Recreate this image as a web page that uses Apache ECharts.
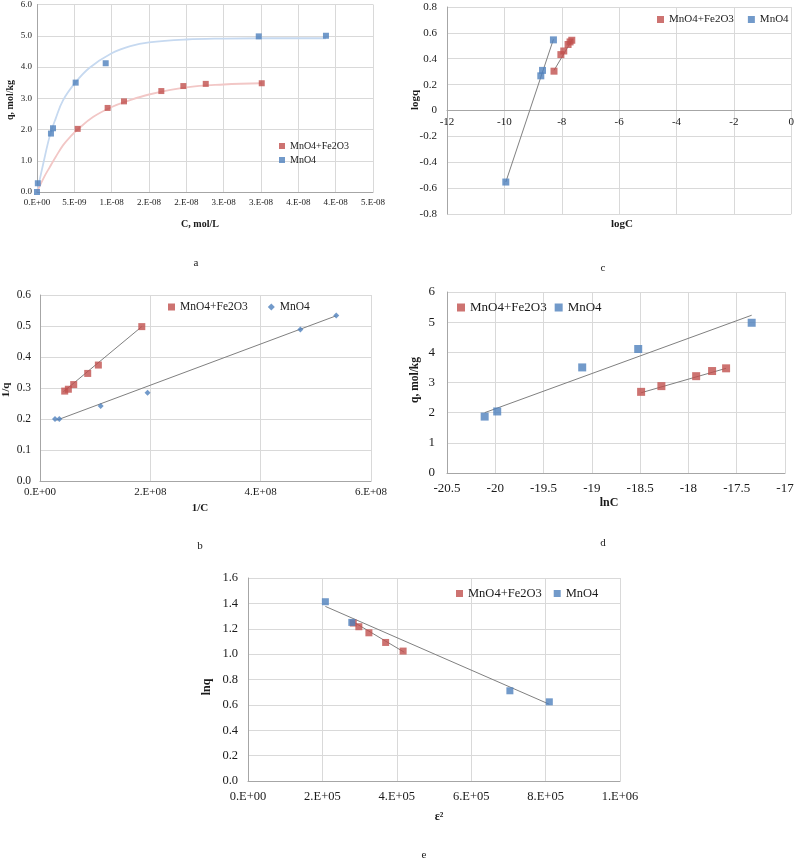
<!DOCTYPE html>
<html><head><meta charset="utf-8">
<script src="https://cdn.jsdelivr.net/npm/echarts@6/dist/echarts.min.js"></script>
<style>html,body{margin:0;padding:0;background:#fff}#c{width:797px;height:860px}</style>
</head><body><div id="c"></div>
<script>
// ---------- Panel a : q vs C ----------
const aBlueC = [0, 1.1e-10, 1.87e-9, 2.14e-9, 5.18e-9, 9.2e-9, 2.97e-8, 3.87e-8];
const aBlueQ = [0, 0.28, 1.87, 2.04, 3.5, 4.12, 4.98, 5.0];
const aRedC = [5.45e-9, 9.46e-9, 1.165e-8, 1.665e-8, 1.96e-8, 2.26e-8, 3.01e-8];
const aRedQ = [2.02, 2.69, 2.90, 3.23, 3.39, 3.46, 3.48];
const aBlueFitC = [0, 0.85e-9, 1.74e-9, 2.5e-9, 3.5e-9, 5.1e-9, 7e-9, 1e-8, 1.25e-8, 1.5e-8, 2e-8, 2.5e-8, 3e-8, 3.87e-8];
const aBlueFitQ = [0, 0.92, 1.82, 2.35, 2.94, 3.49, 3.97, 4.44, 4.67, 4.79, 4.88, 4.91, 4.92, 4.92];
const aRedFitC = [0, 1e-9, 1.74e-9, 2.5e-9, 3.5e-9, 4.5e-9, 5.45e-9, 7.5e-9, 1e-8, 1.2e-8, 1.5e-8, 2e-8, 2.5e-8, 3.01e-8];
const aRedFitQ = [0, 0.5, 0.81, 1.12, 1.5, 1.78, 2.0, 2.4, 2.72, 2.9, 3.12, 3.35, 3.44, 3.48];
const aXLabels = ['0.E+00','5.E-09','1.E-08','2.E-08','2.E-08','3.E-08','3.E-08','4.E-08','4.E-08','5.E-08'];

// ---------- Panel c : logq vs logC ----------
const cBlueX = [-9.95, -8.73, -8.67, -8.29];
const cBlueY = [-0.553, 0.268, 0.31, 0.546];
const cRedX = [-8.27, -8.03, -7.93, -7.78, -7.71, -7.65];
const cRedY = [0.304, 0.432, 0.46, 0.51, 0.53, 0.543];
const cBlueTrendX = [-9.95, -8.29];
const cBlueTrendY = [-0.553, 0.55];
const cRedTrendX = [-8.27, -7.63];
const cRedTrendY = [0.31, 0.55];

// ---------- Panel b : 1/q vs 1/C ----------
const bRedX = [4.48e7, 5.14e7, 6.11e7, 8.65e7, 1.058e8, 1.845e8];
const bRedY = [0.29, 0.296, 0.311, 0.347, 0.374, 0.498];
const bBlueX = [2.72e7, 3.5e7, 1.10e8, 1.95e8, 4.72e8, 5.37e8];
const bBlueY = [0.2, 0.2, 0.242, 0.285, 0.489, 0.534];
const bRedTrendX = [4.23e7, 1.845e8];
const bRedTrendY = [0.288, 0.498];
const bBlueTrendX = [3.0e7, 5.37e8];
const bBlueTrendY = [0.196, 0.533];
const bXLabels = ['0.E+00','2.E+08','4.E+08','6.E+08'];

// ---------- Panel d : q vs lnC ----------
const dBlueX = [-20.11, -19.98, -19.10, -18.52, -17.345];
const dBlueY = [1.87, 2.04, 3.50, 4.11, 4.98];
const dRedX = [-18.49, -18.28, -17.92, -17.755, -17.61];
const dRedY = [2.69, 2.88, 3.21, 3.38, 3.47];
const dBlueTrendX = [-20.11, -17.345];
const dBlueTrendY = [2.0, 5.23];
const dRedTrendX = [-18.49, -17.61];
const dRedTrendY = [2.66, 3.47];

// ---------- Panel e : lnq vs eps^2 ----------
const eBlueX = [2.08e5, 2.79e5, 7.04e5, 8.10e5];
const eBlueY = [1.413, 1.25, 0.711, 0.624];
const eRedX = [2.83e5, 2.98e5, 3.25e5, 3.70e5, 4.17e5];
const eRedY = [1.245, 1.216, 1.168, 1.092, 1.024];
const eBlueTrendX = [2.08e5, 8.10e5];
const eBlueTrendY = [1.376, 0.605];
const eRedTrendX = [2.81e5, 4.20e5];
const eRedTrendY = [1.258, 1.015];
const eXLabels = ['0.E+00','2.E+05','4.E+05','6.E+05','8.E+05','1.E+06'];

const RED = '#c0504d', BLUE = '#4f81bd', TREND = '#808080', GRIDC = '#d9d9d9', AXISC = '#a6a6a6', TXT = '#1a1a1a';
const FONT = 'Liberation Serif';
const zip = (xs, ys) => xs.map((x, i) => [x, ys[i]]);

function xAx(gi, min, max, interval, fs, margin, fmt, onZero) {
  return {
    type: 'value', gridIndex: gi, min, max, interval,
    axisLine: { show: true, onZero: !!onZero, lineStyle: { color: AXISC } },
    axisTick: { show: false },
    splitLine: { show: true, lineStyle: { color: GRIDC } },
    axisLabel: { fontFamily: FONT, fontSize: fs, color: TXT, margin, formatter: fmt, showMinLabel: true, showMaxLabel: true }
  };
}
function yAx(gi, min, max, interval, fs, margin, fmt) {
  return {
    type: 'value', gridIndex: gi, min, max, interval,
    axisLine: { show: true, onZero: false, lineStyle: { color: AXISC } },
    axisTick: { show: false },
    splitLine: { show: true, lineStyle: { color: GRIDC } },
    axisLabel: { fontFamily: FONT, fontSize: fs, color: TXT, margin, formatter: fmt, showMinLabel: true, showMaxLabel: true }
  };
}
function sc(name, xi, data, color, size, symbol) {
  return { type: 'scatter', name, xAxisIndex: xi, yAxisIndex: xi, data, symbol: symbol || 'rect', symbolSize: size, itemStyle: { color }, z: 5 };
}
function ln(name, xi, data, color, width, smooth) {
  return { type: 'line', name, xAxisIndex: xi, yAxisIndex: xi, data, showSymbol: false, symbol: 'none', smooth: smooth || false, lineStyle: { color, width }, z: 3 };
}
function leg(left, top, fs, orient, gap, blueIcon, size) {
  return {
    orient, left, top, itemWidth: size, itemHeight: size, itemGap: gap, padding: 0,
    textStyle: { fontFamily: FONT, fontSize: fs, color: TXT },
    data: [{ name: 'MnO4+Fe2O3', icon: 'rect' }, { name: 'MnO4', icon: blueIcon || 'rect' }]
  };
}
function txt(x, y, text, fs, bold, rot) {
  return { type: 'text', x, y, rotation: rot ? Math.PI / 2 : 0,
    style: { text, fontFamily: FONT, fontSize: fs, fontWeight: bold ? 'bold' : 'normal', fill: TXT, align: 'center', verticalAlign: 'middle', textAlign: 'center', textVerticalAlign: 'middle' } };
}
const f1 = v => v.toFixed(1);

const chart = echarts.init(document.getElementById('c'), null, { renderer: 'canvas' });
chart.setOption({
  animation: false,
  backgroundColor: '#fff',
  grid: [
    { left: 37, top: 4, width: 336, height: 188 },
    { left: 447, top: 7, width: 348, height: 207 },
    { left: 40, top: 295, width: 331, height: 186 },
    { left: 447, top: 292, width: 338, height: 181 },
    { left: 248, top: 578, width: 372, height: 203 }
  ],
  xAxis: [
    xAx(0, 0, 4.5e-8, 5e-9, 9, 6, v => aXLabels[Math.round(v / 5e-9)]),
    xAx(1, -12, 0, 2, 11, -97, null, true),
    xAx(2, 0, 6e8, 2e8, 11, 6, v => bXLabels[Math.round(v / 2e8)]),
    xAx(3, -20.5, -17, 0.5, 13, 9, null),
    xAx(4, 0, 1e6, 2e5, 12.5, 9, v => eXLabels[Math.round(v / 2e5)])
  ],
  yAxis: [
    yAx(0, 0, 6, 1, 9, 5, f1),
    yAx(1, -0.8, 0.8, 0.2, 11, 10, null),
    yAx(2, 0, 0.6, 0.1, 11.5, 9, f1),
    yAx(3, 0, 6, 1, 13, 12, null),
    yAx(4, 0, 1.6, 0.2, 12.5, 10, f1)
  ],
  legend: [
    leg(279, 141, 10, 'vertical', 4, 'rect', 6),
    leg(657, 14, 11, 'horizontal', 14, 'rect', 7),
    leg(168, 301, 11.5, 'horizontal', 20, 'diamond', 7),
    leg(457, 301, 13, 'horizontal', 8, 'rect', 8),
    leg(456, 587, 12.5, 'horizontal', 12, 'rect', 7)
  ],
  series: [
    // a
    ln('MnO4 fit', 0, zip(aBlueFitC, aBlueFitQ), '#c6d9f0', 1.8, 0.4),
    ln('MnO4+Fe2O3 fit', 0, zip(aRedFitC, aRedFitQ), '#f2c7c6', 1.8, 0.4),
    sc('MnO4+Fe2O3', 0, zip(aRedC, aRedQ), RED, 6),
    sc('MnO4', 0, zip(aBlueC, aBlueQ), BLUE, 6),
    // c
    ln('c blue trend', 1, zip(cBlueTrendX, cBlueTrendY), TREND, 1),
    ln('c red trend', 1, zip(cRedTrendX, cRedTrendY), TREND, 1),
    sc('MnO4+Fe2O3', 1, zip(cRedX, cRedY), RED, 7),
    sc('MnO4', 1, zip(cBlueX, cBlueY), BLUE, 7),
    // b
    ln('b red trend', 2, zip(bRedTrendX, bRedTrendY), TREND, 1),
    ln('b blue trend', 2, zip(bBlueTrendX, bBlueTrendY), TREND, 1),
    sc('MnO4+Fe2O3', 2, zip(bRedX, bRedY), RED, 7),
    sc('MnO4', 2, zip(bBlueX, bBlueY), BLUE, 6, 'diamond'),
    // d
    ln('d blue trend', 3, zip(dBlueTrendX, dBlueTrendY), TREND, 1),
    ln('d red trend', 3, zip(dRedTrendX, dRedTrendY), TREND, 1),
    sc('MnO4+Fe2O3', 3, zip(dRedX, dRedY), RED, 8),
    sc('MnO4', 3, zip(dBlueX, dBlueY), BLUE, 8),
    // e
    ln('e blue trend', 4, zip(eBlueTrendX, eBlueTrendY), TREND, 1),
    ln('e red trend', 4, zip(eRedTrendX, eRedTrendY), TREND, 1),
    sc('MnO4+Fe2O3', 4, zip(eRedX, eRedY), RED, 7),
    sc('MnO4', 4, zip(eBlueX, eBlueY), BLUE, 7)
  ],
  graphic: [
    txt(200, 224, 'C, mol/L', 10, true),
    txt(10, 100, 'q, mol/kg', 10, true, true),
    txt(622, 224, 'logC', 11, true),
    txt(415, 100, 'logq', 11, true, true),
    txt(200, 508, '1/C', 11, true),
    txt(6, 390, '1/q', 11, true, true),
    txt(609, 503, 'lnC', 12, true),
    txt(415, 380, 'q, mol/kg', 11.5, true, true),
    txt(439, 817, 'ε²', 12, true),
    txt(207, 687, 'lnq', 12, true, true),
    txt(196, 263, 'a', 11),
    txt(200, 546, 'b', 11),
    txt(603, 268, 'c', 11),
    txt(603, 543, 'd', 11),
    txt(424, 855, 'e', 11)
  ]
});
</script>
</body></html>
